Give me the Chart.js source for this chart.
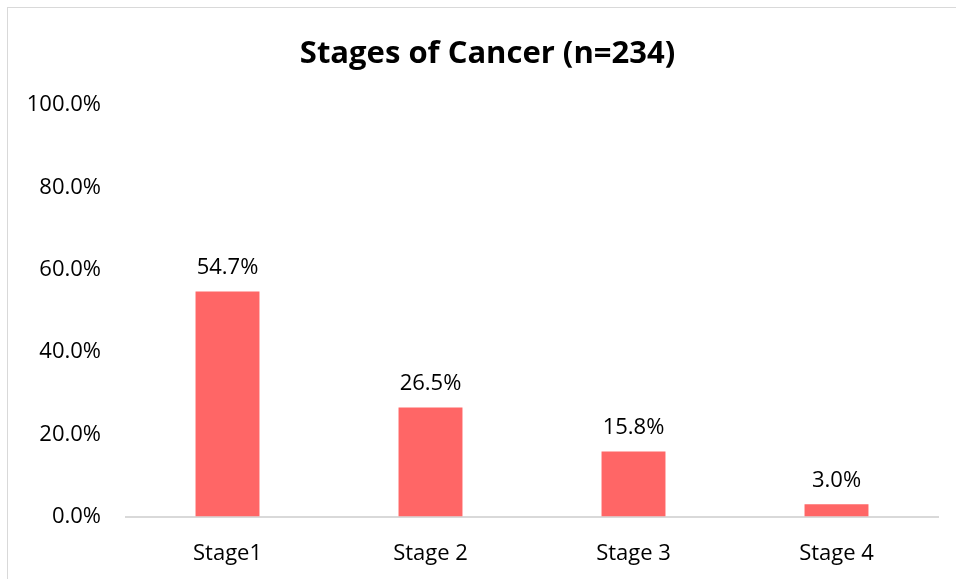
<!DOCTYPE html>
<html>
<head>
<meta charset="utf-8">
<script src="https://cdn.jsdelivr.net/npm/chart.js@4"></script>
<style>
    html, body { margin: 0; padding: 0; background: #fff; overflow: hidden; }
    .chart-frame {
        position: absolute;
        left: 7px;
        top: 7px;
        width: 960px;
        height: 590px;
        border: 1px solid #d9d9d9;
        box-sizing: border-box;
    }
    canvas { display: block; }
</style>
</head>
<body>
<div class="chart-frame">
    <canvas id="stagesChart" width="958" height="588"></canvas>
</div>
<script>
// Chart data
const stageLabels = ['Stage1', 'Stage 2', 'Stage 3', 'Stage 4'];
const stagePercents = [54.7, 26.5, 15.8, 3.0];
const yTicks = [0, 20, 40, 60, 80, 100];

const FONT = '"Open Sans", "Noto Sans", sans-serif';

// Value labels above each bar
const barValueLabels = {
    id: 'barValueLabels',
    afterDatasetsDraw(chart) {
        const ctx = chart.ctx;
        const meta = chart.getDatasetMeta(0);
        ctx.save();
        ctx.font = '22px ' + FONT;
        ctx.fillStyle = '#000';
        ctx.textAlign = 'center';
        ctx.textBaseline = 'bottom';
        meta.data.forEach((bar, i) => {
            ctx.fillText(stagePercents[i].toFixed(1) + '%', bar.x, bar.y - 13);
        });
        ctx.restore();
    }
};

// Center the title over the whole frame rather than the padded box
const titleCenter = {
    id: 'titleCenter',
    afterLayout(chart) {
        if (chart.titleBlock) {
            chart.titleBlock.left = 29;
        }
    }
};

new Chart(document.getElementById('stagesChart'), {
    type: 'bar',
    data: {
        labels: stageLabels,
        datasets: [{
            data: stagePercents,
            backgroundColor: '#ff6666',
            barPercentage: 0.315,
            categoryPercentage: 1
        }]
    },
    options: {
        responsive: false,
        animation: false,
        layout: { padding: { left: 0, right: 28, bottom: 5 } },
        plugins: {
            legend: { display: false },
            tooltip: { enabled: false },
            title: {
                display: true,
                text: 'Stages of Cancer (n=234)',
                color: '#000',
                font: { family: FONT, size: 31, weight: 'bold' },
                padding: { top: 28, bottom: 32 }
            }
        },
        scales: {
            x: {
                grid: { display: false, drawTicks: false },
                border: { display: true, color: '#d9d9d9', width: 2 },
                ticks: {
                    color: '#000',
                    padding: 24,
                    font: { family: FONT, size: 22 }
                }
            },
            y: {
                min: 0,
                max: 100,
                afterBuildTicks: (scale) => {
                    scale.ticks = yTicks.map(v => ({ value: v }));
                },
                afterFit: (scale) => { scale.width = 118; },
                grid: { display: false, drawTicks: false },
                border: { display: false },
                ticks: {
                    color: '#000',
                    padding: 25,
                    font: { family: FONT, size: 22 },
                    callback: (v) => v.toFixed(1) + '%'
                }
            }
        }
    },
    plugins: [barValueLabels, titleCenter]
});
</script>
</body>
</html>
